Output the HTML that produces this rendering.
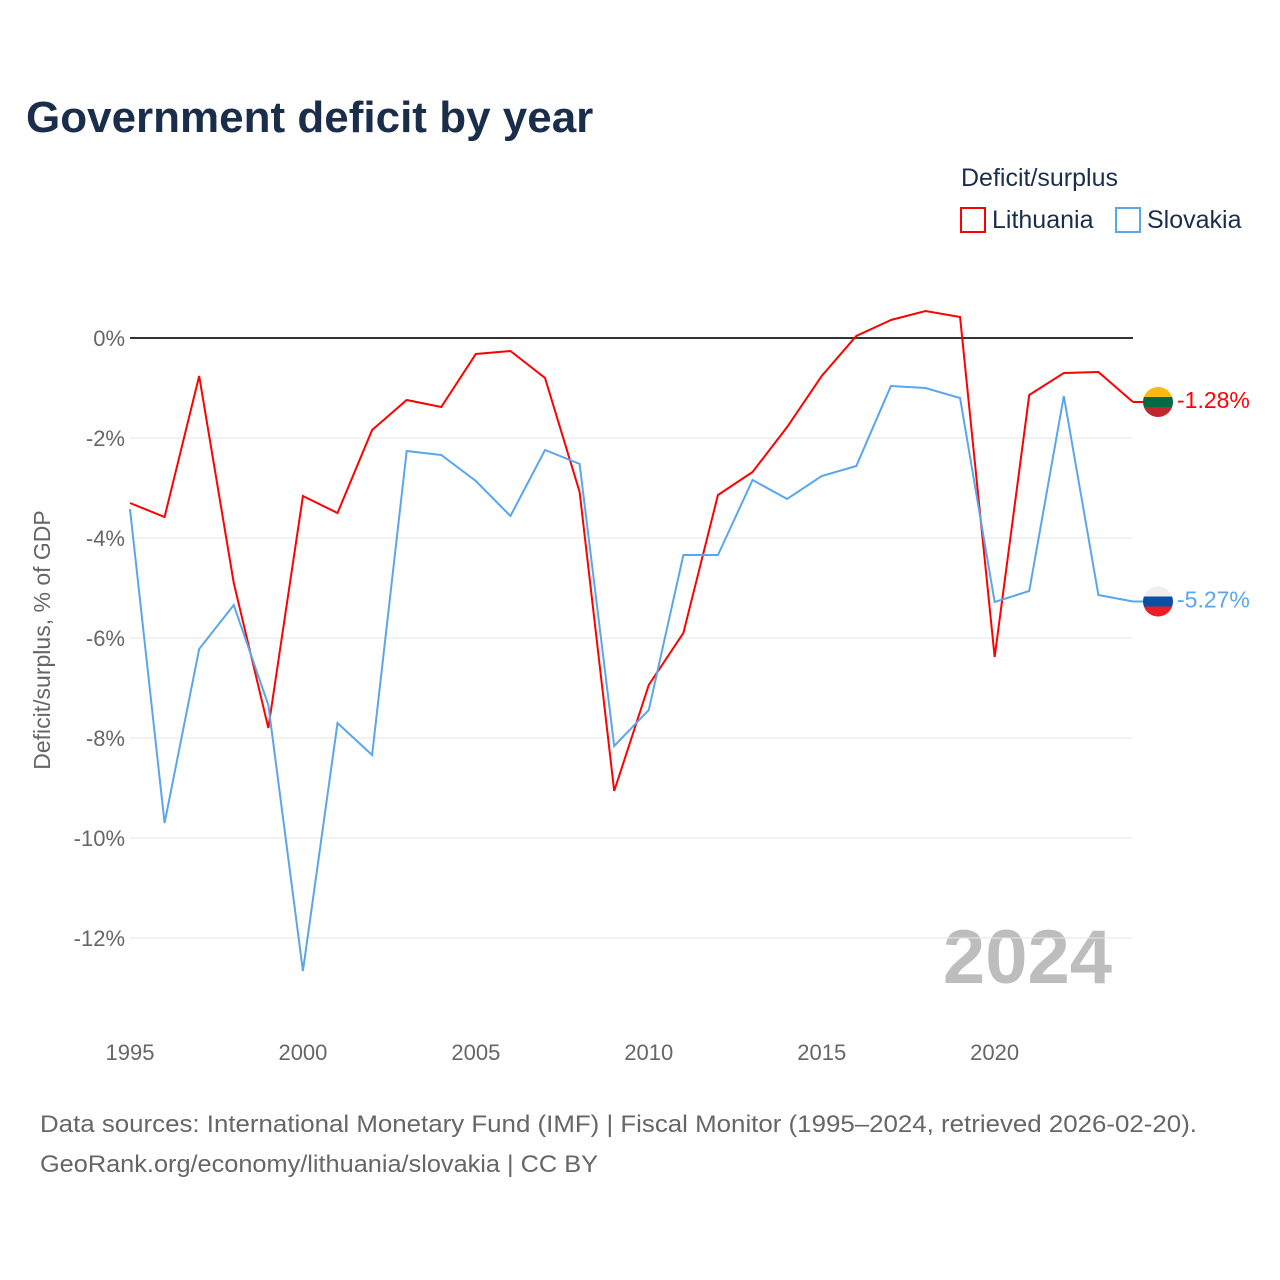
<!DOCTYPE html>
<html><head><meta charset="utf-8">
<style>
body{margin:0;background:#fff;font-family:"Liberation Sans",sans-serif;}
#wrap{position:relative;width:1280px;height:1280px;overflow:hidden;}
</style></head>
<body>
<div id="wrap">
<svg id="chart" width="1280" height="1280" xmlns="http://www.w3.org/2000/svg">
<text x="26" y="132" font-size="44" font-weight="bold" fill="#1a2e4c">Government deficit by year</text>
<text x="961" y="186" font-size="25" fill="#1a2e4c">Deficit/surplus</text>
<g><rect x="961" y="208" width="24" height="24" fill="none" stroke="#ff0000" stroke-width="2"/><text x="992" y="228" font-size="25" fill="#1a2e4c">Lithuania</text></g>
<g><rect x="1116" y="208" width="24" height="24" fill="none" stroke="#5aa6ea" stroke-width="2"/><text x="1147" y="228" font-size="25" fill="#1a2e4c">Slovakia</text></g>
<text transform="translate(50,640) rotate(-90)" text-anchor="middle" font-size="23" fill="#666">Deficit/surplus, % of GDP</text>
<text x="1112" y="983" text-anchor="end" font-size="76" font-weight="bold" fill="#bdbdbd">2024</text>
<g id="grid"></g><g id="lines"></g>
<text x="40" y="1132" font-size="24" fill="#666" textLength="1157" lengthAdjust="spacingAndGlyphs">Data sources: International Monetary Fund (IMF) | Fiscal Monitor (1995–2024, retrieved 2026-02-20).</text>
<text x="40" y="1172" font-size="24" fill="#666" textLength="558" lengthAdjust="spacingAndGlyphs">GeoRank.org/economy/lithuania/slovakia | CC BY</text>
</svg>
</div>
<script>
const years=[1995,1996,1997,1998,1999,2000,2001,2002,2003,2004,2005,2006,2007,2008,2009,2010,2011,2012,2013,2014,2015,2016,2017,2018,2019,2020,2021,2022,2023,2024];
const lithuania=[-3.3,-3.58,-0.76,-4.9,-7.8,-3.16,-3.5,-1.84,-1.24,-1.38,-0.32,-0.26,-0.8,-3.08,-9.06,-6.94,-5.9,-3.14,-2.68,-1.78,-0.76,0.04,0.36,0.54,0.42,-6.38,-1.14,-0.7,-0.68,-1.28];
const slovakia=[-3.42,-9.7,-6.22,-5.34,-7.34,-12.66,-7.7,-8.34,-2.26,-2.34,-2.86,-3.56,-2.24,-2.52,-8.16,-7.44,-4.34,-4.34,-2.84,-3.22,-2.76,-2.56,-0.96,-1.0,-1.2,-5.28,-5.06,-1.16,-5.14,-5.27];
const yTicks=[0,-2,-4,-6,-8,-10,-12];
const xTicks=[1995,2000,2005,2010,2015,2020];
const NS="http://www.w3.org/2000/svg";
const X=y=>130+(y-1995)*(1133-130)/29;
const Y=v=>338-v*50;
function mk(tag,attrs,parent){const e=document.createElementNS(NS,tag);for(const k in attrs)e.setAttribute(k,attrs[k]);parent.appendChild(e);return e;}
const grid=document.getElementById('grid'),lines=document.getElementById('lines');
yTicks.forEach(t=>{
 const l=mk('line',{x1:130,x2:1133,y1:Y(t),y2:Y(t),stroke:t===0?'#333':'#e6e6e6','stroke-width':t===0?2:1},grid);
 
 
 const tx=mk('text',{x:125,y:Y(t)+8,'text-anchor':'end','font-size':22,fill:'#666'},grid);
 tx.textContent=t+'%';
 
 
});
xTicks.forEach(t=>{
 const tx=mk('text',{x:X(t),y:1060,'text-anchor':'middle','font-size':22,fill:'#666'},grid);
 tx.textContent=t;
 
 
});
function series(vals,color,name,flag){
 const p=mk('polyline',{points:vals.map((v,i)=>X(years[i])+','+Y(v)).join(' '),fill:'none',stroke:color,'stroke-width':2},lines);
 
 
 const last=vals[vals.length-1],cy=Y(last);
 const g=mk('g',{},lines);
 
 
 mk('line',{x1:1133,x2:1145,y1:cy,y2:cy,stroke:color,'stroke-width':2},g);
 const cp=mk('clipPath',{id:'c'+name},g);mk('circle',{cx:1158,cy:cy,r:15},cp);
 const gg=mk('g',{'clip-path':'url(#c'+name+')'},g);
 flag.forEach((c,i)=>mk('rect',{x:1143,y:cy-15+i*10,width:30,height:10,fill:c},gg));
 const tx=mk('text',{x:1177,y:cy+6,'font-size':23,fill:color},g);
 tx.textContent=last.toFixed(2)+'%';
 
 
}
series(lithuania,'#ff0000','lithuania',['#fdb913','#006a44','#c1272d']);
series(slovakia,'#5aa6ea','slovakia',['#eeeeee','#0b4ea2','#ee1c25']);
</script>
</body></html>
